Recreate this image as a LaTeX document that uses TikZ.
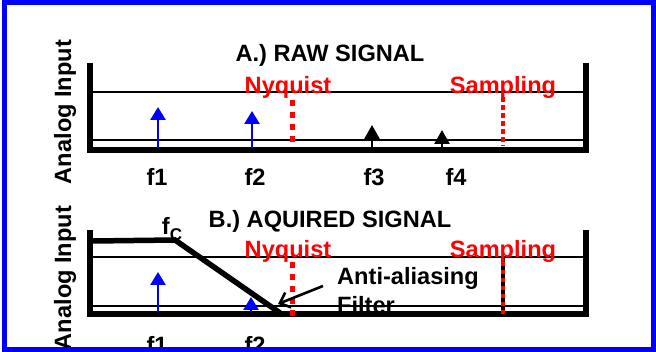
\documentclass[tikz,border=0pt]{standalone}
\usepackage{fontspec}
\setmainfont{Liberation Sans}
\usetikzlibrary{arrows.meta}
\definecolor{frameblue}{RGB}{0,0,255}
\definecolor{markred}{RGB}{255,0,0}
\tikzset{
  lbl/.style={font=\fontsize{23.6}{23.6}\selectfont\bfseries, inner sep=0pt},
  redlbl/.style={lbl, text=markred},
  axisbar/.style={line width=5.5pt, line cap=butt},
  gridline/.style={line width=2pt},
  bluespike/.style={draw=frameblue, line width=2.6pt,
    -{Triangle[width=15pt,length=13pt]}},
  blackspike/.style={draw=black, line width=2.6pt,
    -{Triangle[width=15pt,length=14pt]}},
  nyqmark/.style={draw=markred, line width=5pt, dash pattern=on 6pt off 6pt},
  sampmark/.style={draw=markred, line width=4pt, dash pattern=on 5pt off 3pt},
  callout/.style={draw=black, line width=2.6pt, -{Straight Barb[width=16pt,length=9pt,line width=2.6pt]}},
}
\begin{document}
\begin{tikzpicture}[x=1pt, y=-1pt]
\useasboundingbox (0,0) rectangle (656,352);
\clip (0,0) rectangle (656,352);
\fill[white] (0,0) rectangle (656,352);

% ---------------- Panel A: raw signal ----------------
\draw[gridline] (90,92) -- (586,92);
\draw[gridline] (90,140) -- (586,140);
\draw[axisbar] (90,63) -- (90,153);
\draw[axisbar] (586,63) -- (586,153);
\draw[axisbar] (87.3,150) -- (588.7,150);

\coordinate (a1b) at (158,148);  \coordinate (a1t) at (158,107);
\coordinate (a2b) at (252,148);  \coordinate (a2t) at (252,111);
\coordinate (a3b) at (372,148);  \coordinate (a3t) at (372,125);
\coordinate (a4b) at (442,148);  \coordinate (a4t) at (442,130);
\draw[bluespike] (a1b) -- (a1t);
\draw[bluespike] (a2b) -- (a2t);
\draw[blackspike] (a3b) -- (a3t);
\draw[blackspike] (a4b) -- (a4t);

\coordinate (anyqt) at (292,100); \coordinate (anyqb) at (292,146);
\coordinate (asmpt) at (503,97);  \coordinate (asmpb) at (503,146);
\draw[nyqmark] (anyqt) -- (anyqb);
\draw[sampmark] (asmpt) -- (asmpb);

\node[lbl] (titleA) at (330,55) {A.) RAW SIGNAL};
\node[redlbl] (nyqA) at (288,87) {Nyquist};
\node[redlbl] (sampA) at (503,87) {Sampling};
\node[lbl, rotate=90] (yA) at (65,112) {Analog Input};
\node[lbl] (fA1) at (157,177) {f1};
\node[lbl] (fA2) at (255,177) {f2};
\node[lbl] (fA3) at (374,177) {f3};
\node[lbl] (fA4) at (456,177) {f4};

% ---------------- Panel B: acquired signal ----------------
\node[lbl, anchor=west] (aaTxt) at (337,278) {Anti-aliasing};
\node[lbl, anchor=west] (filtTxt) at (337,305) {Filter};

\draw[gridline] (90,257) -- (586,257);
\draw[gridline] (90,306) -- (586,306);
\draw[axisbar] (90,230) -- (90,317);
\draw[axisbar] (586,230) -- (586,317);
\draw[axisbar] (87.3,314) -- (588.7,314);

\coordinate (fl0) at (93,241);
\coordinate (flc) at (175,240);
\coordinate (fl1) at (283,315);
\draw[line width=5.5pt, line join=miter] (fl0) -- (flc) -- (fl1);

\coordinate (b1b) at (158,312);  \coordinate (b1t) at (158,272);
\coordinate (b2b) at (251,312);  \coordinate (b2t) at (251,297);
\draw[bluespike] (b1b) -- (b1t);
\draw[bluespike] (b2b) -- (b2t);

\coordinate (bnyqt) at (292,262); \coordinate (bnyqb) at (292,318);
\draw[nyqmark] (bnyqt) -- (bnyqb);
\coordinate (bsmpt) at (503,258); \coordinate (bsmpb) at (503,314);
\draw[black, line width=4pt, dash pattern=on 4pt off 4pt] (bsmpt) -- (bsmpb);
\draw[markred, line width=4pt, dash pattern=on 4pt off 4pt, dash phase=4pt] (bsmpt) -- (bsmpb);

\coordinate (aaFrom) at (323,286);
\coordinate (aaTo) at (278,304);
\draw[callout] (aaFrom) -- (aaTo);

\node[lbl] (titleB) at (330,221) {B.) AQUIRED SIGNAL};
\node[lbl] (fc) at (172,229) {f\raisebox{-6pt}{\fontsize{17}{17}\selectfont C}};
\node[redlbl] (nyqB) at (288,251) {Nyquist};
\node[redlbl] (sampB) at (503,251) {Sampling};
\node[lbl, rotate=90] (yB) at (65,278) {Analog Input};
\node[lbl] (fB1) at (157,345) {f1};
\node[lbl] (fB2) at (255,345) {f2};

% ---------------- outer frame ----------------
\draw[frameblue, line width=5pt] (4.5,2.5) rectangle (653.5,349.5);
\end{tikzpicture}
\end{document}
